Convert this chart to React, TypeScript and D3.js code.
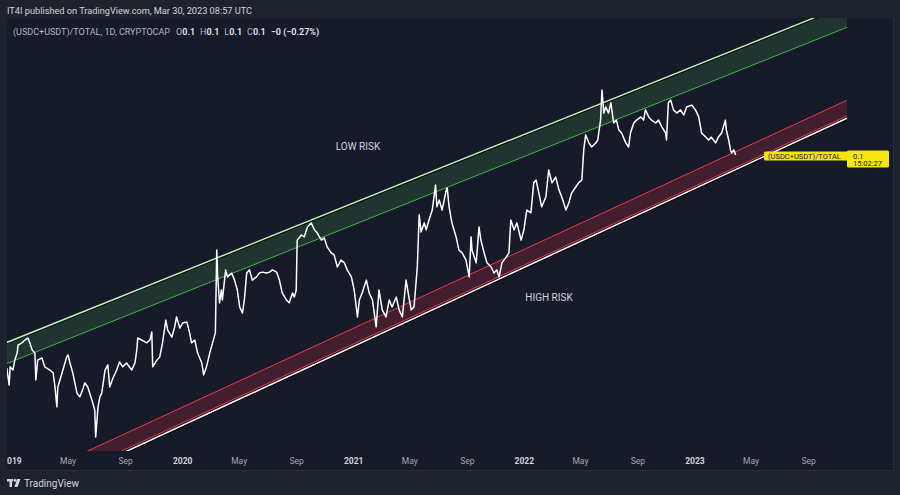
import React from 'react';
import * as d3 from 'd3';

// ---- data: (USDC+USDT)/TOTAL dominance, in percent, daily chart ----
const START = Date.UTC(2019, 0, 1);
const days = [
  -11, -6, -4, 2, 6, 11, 13, 21, 28, 34, 38, 43, 49, 51, 55, 64, 70, 81, 88, 92, 96, 98, 107, 117, 120, 124, 130, 139, 145, 151, 156, 162, 171, 177, 179, 184, 188, 192, 199, 205, 209, 216, 224, 230, 237, 245, 256, 263, 267, 269, 277, 288,
  295, 299, 301, 310, 316, 322, 329, 333, 342, 348, 352, 359, 365, 374, 380, 384, 391, 397, 406, 410, 416, 423, 429, 435, 438, 440, 444, 448, 450, 457, 461, 470, 476, 482, 487, 493, 497, 502, 508, 514, 523, 529, 536, 544, 551, 557, 566, 572, 578, 587, 593, 600, 604, 608,
  610, 619, 625, 632, 640, 647, 653, 662, 668, 674, 683, 689, 696, 704, 711, 717, 726, 732, 739, 743, 749, 758, 764, 771, 779, 785, 792, 800, 807, 813, 822, 828, 835, 843, 850, 854, 860, 867,
  871, 875, 882, 886, 892, 899, 906, 909, 914, 920, 929, 931, 935, 941, 950, 956, 963, 971, 978, 982, 984, 993, 999, 1003, 1010, 1016, 1025, 1031, 1037, 1042, 1048, 1057, 1063, 1067, 1074, 1080, 1089, 1095, 1101, 1110, 1116, 1121, 1127, 1133, 1142, 1148, 1155, 1163, 1170, 1176, 1185, 1191, 1197, 1206, 1212, 1219,
  1223, 1227, 1234, 1240, 1249, 1253, 1259, 1262, 1266, 1270, 1276, 1281, 1287, 1293, 1298, 1304, 1313, 1319, 1323, 1330, 1336, 1345, 1351, 1355, 1362, 1368, 1377, 1383, 1390, 1398, 1400, 1404, 1409, 1415, 1422, 1430, 1437, 1443, 1454, 1462, 1469, 1475, 1484, 1490, 1496, 1505, 1511, 1518, 1526, 1528, 1533, 1537, 1539, 1544, 1548,
];
const dominance = [
  3.34, 2.81, 3.38, 3.28, 3.59, 3.81, 4.06, 4.13, 4.22, 4.28, 4.13, 3.91, 3.81, 2.97, 3.59, 3.66, 3.38, 3.28, 3.19, 2.75, 2.13, 2.75, 3.19, 3.69, 3.75, 3.5, 3.19, 2.56, 2.44, 2.66, 2.88, 2.75, 2.34, 2.03, 1.19, 2.13, 2.44, 2.56, 3.28, 3.44, 2.75, 3.03, 3.28, 3.53, 3.38, 3.5, 3.28, 3.5, 3.91, 4.28, 4.22, 4.13,
  4.22, 4.47, 3.38, 3.59, 3.69, 4.13, 4.84, 4.53, 4.31, 4.63, 4.94, 4.59, 4.75, 4.78, 4.44, 4.13, 4.22, 3.81, 3.5, 3.13, 3.38, 3.81, 4.13, 4.44, 7.03, 6.19, 5.38, 5.78, 5.47, 6.41, 6.19, 6.31, 6.09, 5.78, 5.25, 5.06, 5.47, 6.31, 6.41, 6.09, 6.19, 6.31, 6.34, 6.31, 6.34, 6.41, 6.34, 6.09, 5.69, 5.47, 5.38, 5.69, 5.56, 5.78,
  7.34, 7.5, 7.44, 7.75, 7.88, 7.66, 7.56, 7.34, 7.41, 7.13, 6.94, 6.88, 6.5, 6.72, 6.63, 6.41, 6.19, 5.78, 4.94, 5.47, 5.69, 6.09, 5.69, 5.47, 4.63, 5.78, 5.16, 4.94, 5.47, 5.25, 5.56, 5.16, 4.94, 6.09, 5.47, 5.16, 5.25, 6.5,
  8.13, 7.59, 7.88, 7.66, 7.97, 8.28, 9.06, 8.38, 8.59, 8.28, 8.91, 8.97, 8.38, 7.88, 7.44, 7.03, 6.94, 6.72, 6.19, 7.44, 7.03, 6.63, 7.75, 7.34, 6.94, 6.63, 6.5, 6.31, 6.41, 6.19, 6.63, 6.81, 6.94, 7.97, 7.66, 7.88, 7.34, 7.66, 8.28, 8.19, 9.13, 9.22, 8.81, 8.38, 8.69, 9.53, 9.13, 9.31, 8.91, 8.69, 8.28, 8.5, 8.81, 9.0, 9.13, 9.22,
  10.16, 10.63, 10.38, 10.25, 10.38, 10.47, 11.09, 12.03, 11.31, 11.5, 11.31, 11.63, 11.0, 11.09, 10.78, 10.69, 10.38, 10.25, 10.69, 11.0, 11.09, 11.19, 11.09, 11.41, 11.19, 11.09, 11.0, 11.09, 10.88, 10.69, 10.47, 11.63, 11.72, 11.41, 11.31, 11.41, 11.25, 11.5, 11.56, 11.41, 11.19, 10.69, 10.56, 10.47, 10.56, 10.38, 10.56, 10.69, 11.09, 10.78, 10.47, 10.16, 10.06, 10.16, 10.0,
];

// ---- drawings (trend channels), anchors as [day, dominance %] ----
const greenDays = [-20, 1786];
const greenUpper = [4.09, 14.7];
const greenLower = [3.43, 13.99];
const redDays = [150, 1786];
const redUpper = [0.67, 11.71];
const redLower = [0.18, 11.22];
const supportLine = [0.1, 11.15];

const monthNames = ['Jan', 'Feb', 'Mar', 'Apr', 'May', 'Jun', 'Jul', 'Aug', 'Sep', 'Oct', 'Nov', 'Dec'];
const headerLine = 'IT4I published on TradingView.com, Mar 30, 2023 08:57 UTC';
const symbolTitle = '(USDC+USDT)/TOTAL, 1D, CRYPTOCAP';
const ohlcLabels = ['O', 'H', 'L', 'C'];
const ohlcValues = ['0.1', '0.1', '0.1', '0.1'];
const changeText = '−0 (−0.27%)';
const lastTime = '15:02:27';

const W = 900;
const H = 495;
const PX0 = 7, PX1 = 893, PY0 = 18, PY1 = 470, PLOT_BOTTOM = 451;
const FONT = "Roboto, 'Liberation Sans', sans-serif";

const toDate = (d: number) => new Date(START + d * 86400000);

export default function App() {
  const x = d3.scaleUtc().domain([toDate(0), toDate(1461)]).range([12, 695]);
  const y = d3.scaleLinear().domain([0, 10]).range([475, 155]);

  const pts = days.map((d, i) => [x(toDate(d)), y(dominance[i])] as [number, number]);
  const line = d3.line<[number, number]>().x(p => p[0]).y(p => p[1]);
  const pricePath = line(pts) || '';

  const seg = (ds: number[], vs: number[]) => ds.map((d, i) => [x(toDate(d)), y(vs[i])] as [number, number]);
  const band = (ds: number[], up: number[], lo: number[]) => {
    const a = seg(ds, up);
    const b = seg(ds, lo).reverse();
    return 'M' + [...a, ...b].map(p => p.join(',')).join('L') + 'Z';
  };

  const gU = seg(greenDays, greenUpper);
  const gL = seg(greenDays, greenLower);
  const rU = seg(redDays, redUpper);
  const rL = seg(redDays, redLower);
  const sL = seg(redDays, supportLine);

  const ticks = d3.utcMonth.every(4)!.range(toDate(-30), toDate(1900)).filter(t => x(t) < 840);

  const lastV = dominance[dominance.length - 1];
  const ly = y(lastV);

  return (
    <svg width={W} height={H} style={{ position: 'fixed', left: 0, top: 0, display: 'block' }} fontFamily={FONT}>
      <defs>
        <clipPath id="plot">
          <rect x={PX0} y={PY0} width={PX1 - PX0} height={PLOT_BOTTOM - PY0} />
        </clipPath>
        <clipPath id="panel">
          <rect x={PX0} y={PY0} width={PX1 - PX0} height={PY1 - PY0} />
        </clipPath>
      </defs>
      <rect x={0} y={0} width={W} height={H} fill="#1e222d" />
      <rect x={PX0} y={PY0} width={PX1 - PX0} height={PY1 - PY0} fill="#161a29" />
      <line x1={PX1 + 0.5} x2={PX1 + 0.5} y1={PY0} y2={PY1} stroke="#2a2e39" />
      <line x1={PX0} x2={PX1} y1={PY1 + 0.5} y2={PY1 + 0.5} stroke="#2a2e39" />

      <text x={7} y={14} fontSize={9.2} fill="#d1d4dc">{headerLine}</text>

      <g clipPath="url(#plot)">
        <path d={band(greenDays, greenUpper, greenLower)} fill="#4caf50" fillOpacity={0.18} />
        <path d={band(redDays, redUpper, redLower)} fill="#f23645" fillOpacity={0.2} />
        <line x1={gL[0][0]} y1={gL[0][1]} x2={gL[1][0]} y2={gL[1][1]} stroke="#4caf50" strokeWidth={1} />
        <line x1={gU[0][0]} y1={gU[0][1] + 1.3} x2={gU[1][0]} y2={gU[1][1] + 1.3} stroke="#000" strokeWidth={1.2} strokeOpacity={0.8} />
        <line x1={gU[0][0]} y1={gU[0][1]} x2={gU[1][0]} y2={gU[1][1]} stroke="#c5f2c0" strokeWidth={1.4} />
        <line x1={rU[0][0]} y1={rU[0][1]} x2={rU[1][0]} y2={rU[1][1]} stroke="#f23645" strokeWidth={1} />
        <line x1={rL[0][0]} y1={rL[0][1]} x2={rL[1][0]} y2={rL[1][1]} stroke="#f23645" strokeWidth={1} />
        <line x1={sL[0][0]} y1={sL[0][1] + 1.3} x2={sL[1][0]} y2={sL[1][1] + 1.3} stroke="#000" strokeWidth={1.2} strokeOpacity={0.85} />
        <line x1={sL[0][0]} y1={sL[0][1]} x2={sL[1][0]} y2={sL[1][1]} stroke="#ffffff" strokeWidth={1.5} />
        <path d={pricePath} fill="none" stroke="#ffffff" strokeWidth={1.5} strokeLinejoin="round" />
      </g>

      <text x={13} y={35} fontSize={9} fill="#b2b5be">
        <tspan>{symbolTitle}</tspan>
        {ohlcLabels.map((l, i) => (
          <React.Fragment key={l}>
            <tspan dx={i === 0 ? 6 : 5}>{l}</tspan>
            <tspan fill="#e6e8ee" fontWeight={600}>{ohlcValues[i]}</tspan>
          </React.Fragment>
        ))}
        <tspan dx={5} fill="#e6e8ee" fontWeight={600}>{changeText}</tspan>
      </text>

      <text x={358} y={150} fontSize={10} fill="#d1d4dc" textAnchor="middle">LOW RISK</text>
      <text x={549} y={301} fontSize={10} fill="#d1d4dc" textAnchor="middle">HIGH RISK</text>

      <g clipPath="url(#panel)">
        {ticks.map(t => {
          const isYear = t.getUTCMonth() === 0;
          return (
            <text key={t.getTime()} x={x(t)} y={464} fontSize={8.5} textAnchor="middle"
              fill={isYear ? '#d1d4dc' : '#a3a6af'} fontWeight={isYear ? 700 : 400}>
              {isYear ? String(t.getUTCFullYear()) : monthNames[t.getUTCMonth()]}
            </text>
          );
        })}
      </g>

      {/* last value labels */}
      <rect x={764} y={ly - 3.5} width={86} height={9} rx={1.5} fill="#f5e60f" />
      <text x={768} y={ly + 3.5} fontSize={7.5} fill="#131722">(USDC+USDT)/TOTAL</text>
      <rect x={847} y={ly - 4.5} width={42} height={17} rx={1.5} fill="#f5e60f" />
      <text x={853} y={ly + 3.5} fontSize={7.5} fill="#131722">{(lastV / 100).toString()}</text>
      <text x={853} y={ly + 11} fontSize={7.5} fill="#131722">{lastTime}</text>

      {/* footer logo */}
      <g transform="translate(7,479)" fill="#d1d4dc">
        <rect x={0} y={0} width={6} height={2.5} />
        <rect x={2.5} y={0} width={2.5} height={8} />
        <circle cx={8} cy={1.4} r={1.4} />
        <path d="M10 0 L13.5 0 L10.5 8 L7.5 8 Z" />
      </g>
      <text x={24} y={487} fontSize={10} fill="#d1d4dc">TradingView</text>
    </svg>
  );
}
